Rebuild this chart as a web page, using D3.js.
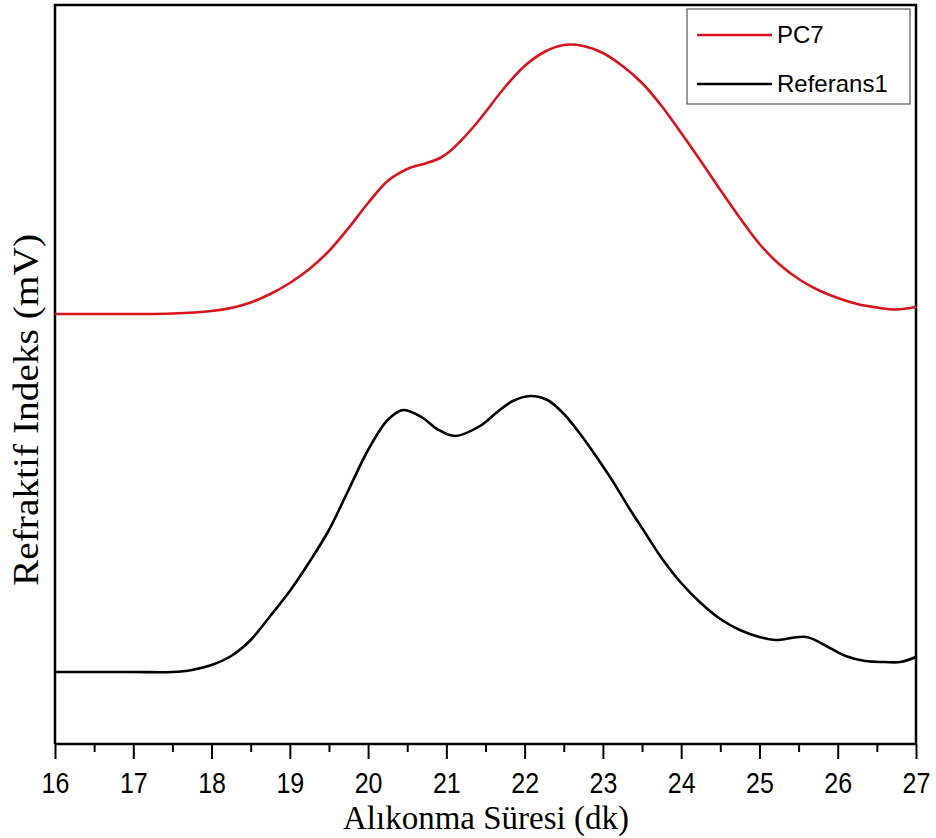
<!DOCTYPE html>
<html>
<head>
<meta charset="utf-8">
<script src="https://cdn.jsdelivr.net/npm/d3@7/dist/d3.min.js"></script>
<style>
  html, body { margin: 0; padding: 0; background: #fff; }
  svg { display: block; }
</style>
</head>
<body>
<script>
// ---- data (retention time in min, detector signal in arbitrary mV units) ----
const seriesNames = ["PC7", "Referans1"];
const seriesColors = ["#d8141c", "#000000"];

const pc7Time = [16, 16.5, 17, 17.5, 18, 18.25, 18.5, 18.75, 19, 19.25, 19.5, 19.75, 20, 20.25, 20.5, 20.75, 20.92, 21.05, 21.17, 21.3, 21.43, 21.5, 21.75, 22, 22.25, 22.5, 22.75, 23, 23.25, 23.5, 23.75, 24, 24.25, 24.5, 24.75, 25, 25.25, 25.5, 25.75, 26, 26.25, 26.5, 26.75, 27];
const pc7Signal = [430, 430, 430, 430.5, 433, 436, 441.5, 450, 461, 475, 493, 516, 541, 563, 575, 581, 586, 593, 602, 613, 625, 632, 657, 678, 692, 699, 698, 691, 678, 661, 638, 611, 583, 554, 526, 500, 480, 465, 454, 446, 440, 436.5, 434.5, 437];

const refTime = [16, 16.5, 17, 17.5, 17.75, 18, 18.25, 18.5, 18.75, 19, 19.25, 19.5, 19.75, 20, 20.25, 20.45, 20.7, 20.88, 21.11, 21.43, 21.65, 21.85, 22.07, 22.29, 22.49, 22.7, 22.92, 23.14, 23.35, 23.5, 23.75, 24, 24.25, 24.5, 24.75, 25, 25.2, 25.6, 25.9, 26.1, 26.35, 26.6, 26.8, 27];
const refSignal = [72, 72, 72, 72, 74, 79, 88, 104, 128, 153, 182, 214, 254, 294, 324, 334, 326, 315, 308, 318, 332, 343, 348, 344, 331, 311, 287, 261, 234, 216, 186, 161, 141, 125, 114, 107, 104, 107, 96, 88, 83, 82, 82, 87];

const xTicks = [16, 17, 18, 19, 20, 21, 22, 23, 24, 25, 26, 27];
const xMinorTicks = [16.5, 17.5, 18.5, 19.5, 20.5, 21.5, 22.5, 23.5, 24.5, 25.5, 26.5];
const xTitle = "Alıkonma Süresi (dk)";
const yTitle = "Refraktif Indeks (mV)";

// ---- layout ----
const W = 936, H = 838;
const mLeft = 55, mRight = 916, mTop = 5, mBottom = 744;

const svg = d3.select("body").append("svg").attr("width", W).attr("height", H);

const x = d3.scaleLinear().domain([16, 27]).range([mLeft, mRight]);
const y = d3.scaleLinear().domain([0, 739]).range([mBottom, mTop]);

// frame (top, left, right)
svg.append("path")
  .attr("d", `M${mLeft},${mBottom} V${mTop} H${mRight} V${mBottom}`)
  .attr("fill", "none").attr("stroke", "#000").attr("stroke-width", 2.5);

// curves
const line = d3.line().x(d => x(d[0])).y(d => y(d[1])).curve(d3.curveCatmullRom.alpha(0.5));
const series = [
  d3.zip(pc7Time, pc7Signal),
  d3.zip(refTime, refSignal)
];
series.forEach((s, i) => {
  svg.append("path").datum(s)
    .attr("d", line)
    .attr("fill", "none")
    .attr("stroke", seriesColors[i])
    .attr("stroke-width", 2.6)
    .attr("stroke-linejoin", "round");
});

// x axis (major)
const xAxis = svg.append("g").attr("transform", `translate(0,${mBottom})`)
  .call(d3.axisBottom(x).tickValues(xTicks).tickSize(15).tickSizeOuter(0).tickFormat(d3.format("d")));
xAxis.select(".domain").attr("stroke-width", 2.5).attr("d", `M${mLeft},0H${mRight}`);
xAxis.selectAll(".tick line").attr("stroke-width", 2);
xAxis.selectAll(".tick text")
  .attr("y", 0).attr("dy", null)
  .attr("transform", "translate(0,49) scale(1,1.17)")
  .attr("font-family", "Liberation Sans, Arial, sans-serif")
  .attr("font-size", 25).attr("fill", "#000");

// minor ticks
const xMinor = svg.append("g").attr("transform", `translate(0,${mBottom})`)
  .call(d3.axisBottom(x).tickValues(xMinorTicks).tickSize(8).tickSizeOuter(0).tickFormat(""));
xMinor.select(".domain").remove();
xMinor.selectAll(".tick line").attr("stroke-width", 2);

// axis titles
svg.append("text")
  .attr("x", 486).attr("y", 829)
  .attr("text-anchor", "middle")
  .attr("font-family", "Liberation Serif, Times New Roman, serif")
  .attr("font-size", 33).attr("fill", "#000")
  .text(xTitle);

svg.append("text")
  .attr("transform", `translate(38,${410}) rotate(-90)`)
  .attr("text-anchor", "middle")
  .attr("font-family", "Liberation Serif, Times New Roman, serif")
  .attr("font-size", 36).attr("fill", "#000")
  .attr("textLength", 352).attr("lengthAdjust", "spacingAndGlyphs")
  .text(yTitle);

// legend
const lg = svg.append("g");
lg.append("rect")
  .attr("x", 687).attr("y", 9).attr("width", 223).attr("height", 95)
  .attr("fill", "#fff").attr("stroke", "#555").attr("stroke-width", 1.2);
const legendY = [35, 84];
seriesNames.forEach((name, i) => {
  lg.append("line")
    .attr("x1", 697).attr("x2", 772)
    .attr("y1", legendY[i]).attr("y2", legendY[i])
    .attr("stroke", seriesColors[i]).attr("stroke-width", 2.6);
  lg.append("text")
    .attr("x", 777).attr("y", legendY[i] + 8)
    .attr("font-family", "Liberation Sans, Arial, sans-serif")
    .attr("font-size", 24).attr("fill", "#000")
    .text(name);
});
</script>
</body>
</html>
